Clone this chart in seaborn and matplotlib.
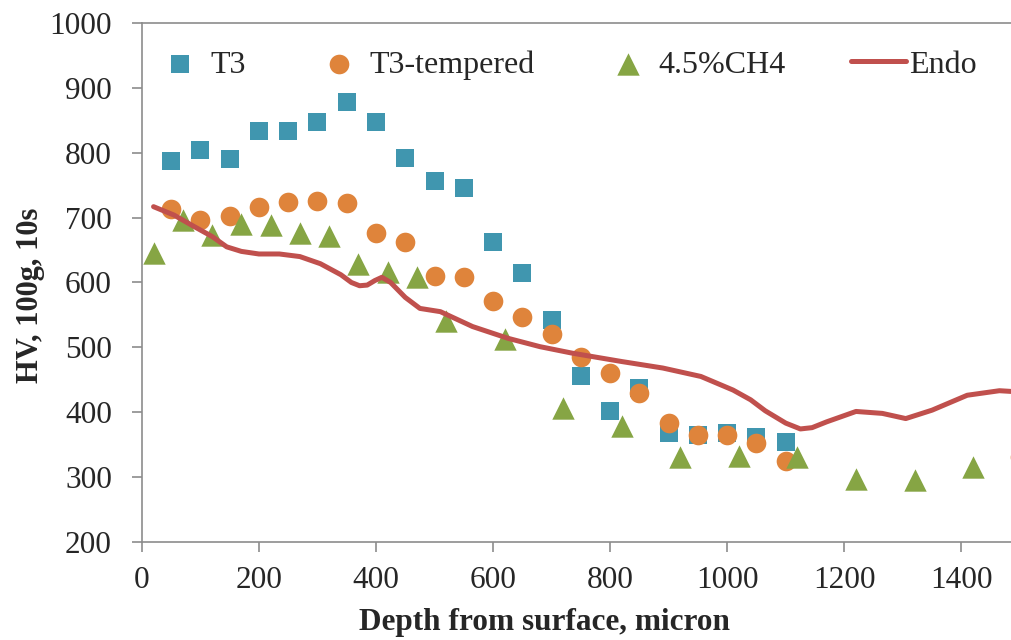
import matplotlib
matplotlib.use('Agg')
import pandas as pd
import seaborn as sns
import matplotlib.pyplot as plt

# hardness profiles
t3_depth = [50, 100, 150, 200, 250, 300, 350, 400, 450, 500, 550, 600,
            650, 700, 750, 800, 850, 900, 950, 1000, 1050, 1100, 1500]
t3_hv = [787, 804, 791, 834, 834, 848, 879, 847, 792, 757, 746, 662,
         614, 542, 455, 402, 437, 367, 365, 368, 361, 354, 352]

tempered_depth = [50, 100, 150, 200, 250, 300, 350, 400, 450, 500, 550, 600,
                  650, 700, 750, 800, 850, 900, 950, 1000, 1050, 1100, 1500]
tempered_hv = [713, 697, 703, 717, 724, 725, 722, 677, 662, 610, 609, 571,
               546, 520, 485, 461, 429, 383, 364, 364, 352, 325, 331]

ch4_depth = [20, 70, 120, 170, 220, 270, 320, 370, 420, 470, 520, 620,
             720, 820, 920, 1020, 1120, 1220, 1320, 1420]
ch4_hv = [646, 697, 673, 690, 688, 676, 672, 629, 616, 609, 540, 513,
          406, 379, 330, 333, 330, 296, 295, 315]

endo_depth = [20, 55, 90, 120, 145, 170, 200, 235, 270, 305, 340, 358, 372,
              385, 398, 410, 425, 450, 475, 510, 565, 625, 680, 735, 820,
              890, 955, 1010, 1040, 1065, 1100, 1125, 1145, 1170, 1220,
              1265, 1305, 1350, 1410, 1465, 1520]
endo_hv = [717, 704, 686, 671, 655, 648, 644, 644, 640, 629, 612, 600, 595,
           596, 603, 608, 600, 577, 560, 555, 532, 514, 501, 491, 478,
           468, 455, 434, 419, 402, 383, 374, 376, 385, 401, 398, 390, 403,
           426, 433, 430]

sns.set_style('white')
plt.rcParams['font.family'] = ['Liberation Serif', 'DejaVu Serif']

fig = plt.figure(figsize=(10.11, 6.4), dpi=100)
# axes run past the right edge, like the cropped original
ax = fig.add_axes([0.1403, 0.1536, 0.9264, 0.81])

sns.scatterplot(x=t3_depth, y=t3_hv, marker='s', s=175, color='#4096AF',
                linewidth=0, label='T3', ax=ax)
sns.scatterplot(x=tempered_depth, y=tempered_hv, marker='o', s=200,
                color='#DF843B', linewidth=0, label='T3-tempered', ax=ax)
sns.scatterplot(x=ch4_depth, y=ch4_hv, marker='^', s=260, color='#86A544',
                linewidth=0, label='4.5%CH4', ax=ax)
sns.lineplot(x=endo_depth, y=endo_hv, color='#C0504D', linewidth=3.6,
             sort=False, label='Endo', ax=ax, solid_joinstyle='round')

ax.set_xlim(0, 1600)
ax.set_ylim(200, 1000)
ax.set_xticks(range(0, 1401, 200))
ax.set_yticks(range(200, 1001, 100))

for side in ['left', 'bottom', 'top']:
    ax.spines[side].set_color('#8C8C8C')
    ax.spines[side].set_linewidth(1.2)
ax.spines['right'].set_visible(False)
ax.tick_params(axis='both', direction='out', length=7.5, width=1.2,
               color='#8C8C8C', labelsize=22.5)
ax.tick_params(axis='x', bottom=True, pad=10)
ax.tick_params(axis='y', left=True, pad=14)

ax.set_xlabel('Depth from surface, micron', fontsize=22.5, fontweight='bold')
ax.set_ylabel('HV, 100g, 10s', fontsize=22, fontweight='bold')
ax.xaxis.set_label_coords(0.4294, -0.128)
ax.yaxis.set_label_coords(-0.103, 0.476)

ax.legend(loc='center left', bbox_to_anchor=(0.0114, 0.92), ncol=4,
          frameon=False, fontsize=23, handlelength=1.72, handletextpad=0.1,
          columnspacing=2.05, borderaxespad=0, borderpad=0)

fig.savefig('out.png', dpi=100)
